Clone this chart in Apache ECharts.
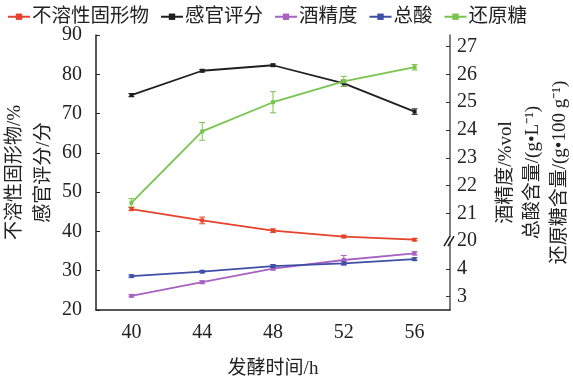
<!DOCTYPE html>
<html><head><meta charset="utf-8">
<script src="https://cdn.jsdelivr.net/npm/echarts@6/dist/echarts.min.js"></script>
<style>html,body{margin:0;padding:0;background:#fff}#c{width:573px;height:380px}</style>
</head><body><div id="c"></div>
<script>
const categories = ['40', '44', '48', '52', '56'];
const insoluble = [45.7, 42.8, 40.2, 38.7, 37.9];
const insolubleErr = [0.4, 0.85, 0.45, 0.3, 0.3];
const sensory = [74.7, 80.9, 82.3, 77.7, 70.5];
const sensoryErr = [0.4, 0.3, 0.3, 0.8, 0.7];
const alcohol = [3.03, 3.52, 4.01, 4.32, 4.56];
const alcoholErr = [0.04, 0.05, 0.05, 0.16, 0.06];
const acid = [3.74, 3.90, 4.10, 4.20, 4.35];
const acidErr = [0.04, 0.04, 0.05, 0.06, 0.05];
const sugar = [21.38, 23.95, 25.0, 25.75, 26.26];
const sugarErr = [0.15, 0.32, 0.38, 0.18, 0.1];
const leftTicks = [20, 30, 40, 50, 60, 70, 80, 90];
const rightTickLabels = ['3', '4', '20', '21', '22', '23', '24', '25', '26', '27'];
const names = ['不溶性固形物', '感官评分', '酒精度', '总酸', '还原糖'];
const colors = ['#e5432b', '#1f1f1f', '#a862c0', '#3f4fa6', '#79c44e'];

// broken right axis: 3,4 (lower segment) then 20..27 (upper segment), equally spaced
function brk(v) { return v >= 10 ? v - 18 : v - 3; }

const FONT = '"Liberation Serif", "Noto Sans CJK SC", serif';
const chart = echarts.init(document.getElementById('c'));

function lineSeries(i, data, yIdx, mapFn) {
  return {
    name: names[i], type: 'line', yAxisIndex: yIdx,
    data: data.map(mapFn),
    symbol: 'rect', symbolSize: 4, showSymbol: true,
    lineStyle: { color: colors[i], width: 1.8 },
    itemStyle: { color: colors[i] },
    z: 3
  };
}
function errSeries(i, data, err, yIdx, mapFn) {
  return {
    type: 'custom', yAxisIndex: yIdx, silent: true, z: 2,
    data: data.map((v, k) => [k, mapFn(v) - err[k], mapFn(v) + err[k]]),
    encode: { x: 0, y: [1, 2] },
    renderItem: function (params, api) {
      const lo = api.coord([api.value(0), api.value(1)]);
      const hi = api.coord([api.value(0), api.value(2)]);
      const w = 3;
      const st = { stroke: colors[i], lineWidth: 1 };
      return { type: 'group', children: [
        { type: 'line', shape: { x1: lo[0], y1: lo[1], x2: hi[0], y2: hi[1] }, style: st },
        { type: 'line', shape: { x1: lo[0] - w, y1: lo[1], x2: lo[0] + w, y2: lo[1] }, style: st },
        { type: 'line', shape: { x1: hi[0] - w, y1: hi[1], x2: hi[0] + w, y2: hi[1] }, style: st }
      ]};
    }
  };
}
const id = v => v;

const option = {
  backgroundColor: '#fff',
  textStyle: { fontFamily: FONT },
  legend: {
    data: names, top: 2, left: 2, itemWidth: 22, itemHeight: 8, itemGap: 11,
    textStyle: { fontFamily: FONT, fontSize: 19.5, color: '#222', padding: [0, 0, 0, -3] }
  },
  grid: { left: 96, right: 123, top: 35, bottom: 70, outerBoundsMode: 'none', containLabel: false },
  xAxis: {
    type: 'category', data: categories, boundaryGap: true,
    name: '发酵时间/h', nameLocation: 'middle', nameGap: 50,
    nameTextStyle: { fontFamily: FONT, fontSize: 19, color: '#222' },
    axisLine: { onZero: false, lineStyle: { color: '#222', width: 1.5 } },
    axisTick: { alignWithLabel: true, inside: true, length: 4, lineStyle: { color: '#222' } },
    axisLabel: { fontFamily: FONT, fontSize: 20, color: '#222', margin: 13 }
  },
  yAxis: [{
    type: 'value', min: leftTicks[0], max: leftTicks[leftTicks.length - 1], interval: 10,
    name: '不溶性固形物/%\n感官评分/分', nameLocation: 'middle', nameRotate: 90, nameGap: 37,
    nameMoveOverlap: false,
    nameTextStyle: { fontFamily: FONT, fontSize: 19, color: '#222', lineHeight: 29 },
    axisLine: { show: true, lineStyle: { color: '#222', width: 1.5 } },
    axisTick: { show: true, inside: true, length: 4, lineStyle: { color: '#222' } },
    axisLabel: { fontFamily: FONT, fontSize: 20, color: '#222', margin: 14 },
    splitLine: { show: false }
  }, {
    type: 'value', min: -0.48, max: 9.42, position: 'right',
    name: '酒精度/%vol\n总酸含量/(g•L⁻¹)\n还原糖含量/(g•100 g⁻¹)',
    nameLocation: 'middle', nameRotate: 90, nameGap: 43,
    nameTextStyle: { fontFamily: FONT, fontSize: 19, color: '#222', lineHeight: 27 },
    axisLine: { show: true, lineStyle: { color: '#555', width: 1.5 } },
    axisTick: { show: true, inside: true, length: 4, lineStyle: { color: '#333' },
      customValues: rightTickLabels.map((s, k) => k) },
    axisLabel: { fontFamily: FONT, fontSize: 20, color: '#222', margin: 7,
      customValues: rightTickLabels.map((s, k) => k),
      formatter: v => rightTickLabels[Math.round(v)] },
    splitLine: { show: false }
  }],
  series: [
    errSeries(0, insoluble, insolubleErr, 0, id),
    errSeries(1, sensory, sensoryErr, 0, id),
    errSeries(2, alcohol, alcoholErr, 1, brk),
    errSeries(3, acid, acidErr, 1, brk),
    errSeries(4, sugar, sugarErr, 1, brk),
    lineSeries(0, insoluble, 0, id),
    lineSeries(1, sensory, 0, id),
    lineSeries(2, alcohol, 1, brk),
    lineSeries(3, acid, 1, brk),
    lineSeries(4, sugar, 1, brk)
  ],
  animation: false
};
chart.setOption(option);

// break mark on right axis at the "20" tick
const grid = chart.getModel().getComponent('grid', 0).coordinateSystem.getRect();
const ax = grid.x + grid.width;
const by = chart.convertToPixel({ yAxisIndex: 1 }, 2);
chart.setOption({
  graphic: [
    { type: 'polygon', shape: { points: [[ax - 5, by + 4], [ax - 1, by - 4], [ax + 3, by - 4], [ax - 1, by + 4]] },
      style: { fill: '#fff' }, z: 10 },
    { type: 'line', shape: { x1: ax - 6, y1: by + 5, x2: ax, y2: by - 5 }, style: { stroke: '#222', lineWidth: 1.6 }, z: 11 },
    { type: 'line', shape: { x1: ax - 2, y1: by + 5, x2: ax + 4, y2: by - 5 }, style: { stroke: '#222', lineWidth: 1.6 }, z: 11 }
  ]
});
</script></body></html>
